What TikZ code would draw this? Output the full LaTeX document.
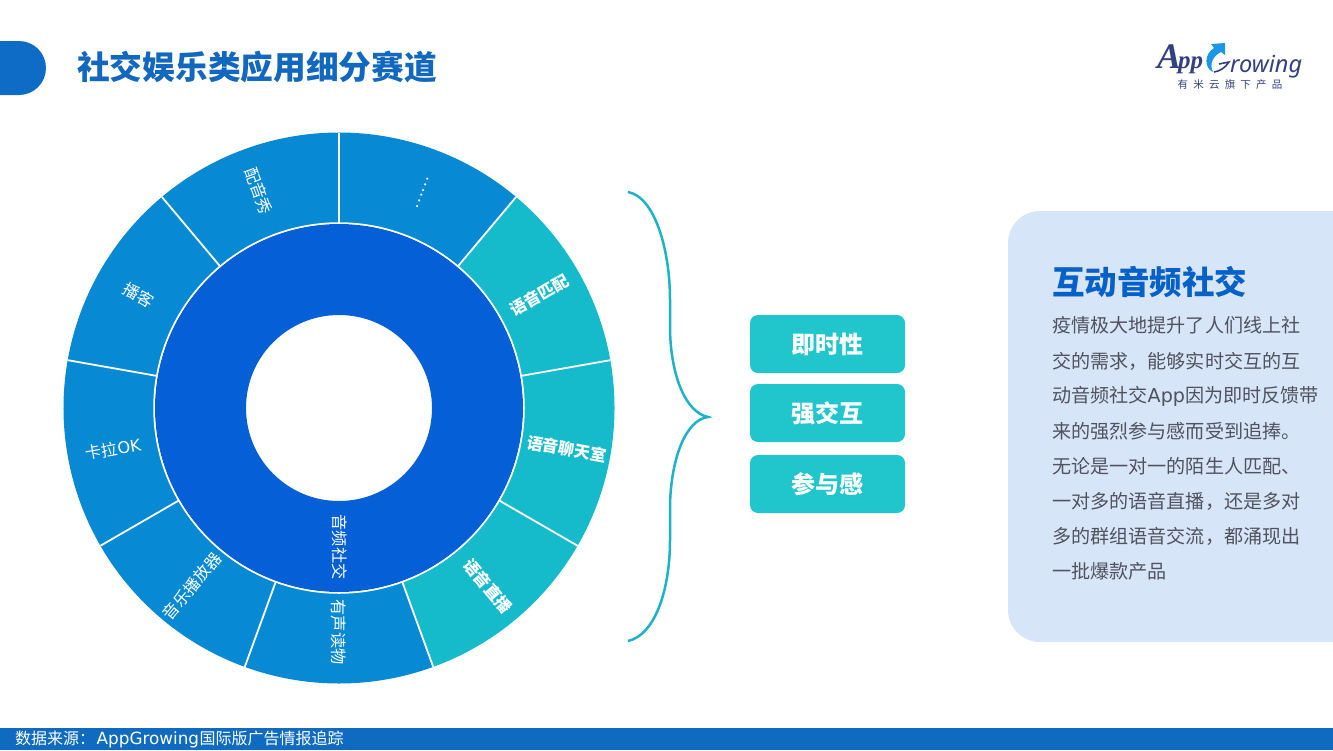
\documentclass[tikz,border=0pt]{standalone}
\usepackage{fontspec}
\setmainfont{Noto Sans}
\newfontfamily\cjk{Noto Sans CJK SC}
\newfontfamily\latinf{DejaVu Sans}
\newfontfamily\logofont{Liberation Serif}
\usetikzlibrary{calc}
\definecolor{pillblue}{HTML}{0F6CC6}
\definecolor{titleblue}{HTML}{1168BE}
\definecolor{inner}{HTML}{0560D8}
\definecolor{outerblue}{HTML}{0889D4}
\definecolor{teal}{HTML}{16BBCB}
\definecolor{boxteal}{HTML}{20C6CB}
\definecolor{bracecol}{HTML}{1CB2C8}
\definecolor{panel}{HTML}{D7E5F8}
\definecolor{bodytext}{HTML}{50525E}
\definecolor{heading}{HTML}{0560C8}
\definecolor{footbar}{HTML}{0F6BBF}
\definecolor{logonavy}{HTML}{34407F}
\definecolor{logoblue}{HTML}{1E96E6}
\tikzset{
  x=1pt,y=-1pt,
  seglabel/.style={text=white,inner sep=0pt,font=\cjk\fontsize{16.2}{16.2}\selectfont},
  tealabel/.style={text=white,inner sep=0pt,font=\cjk\bfseries\fontsize{16.2}{16.2}\selectfont},
  tagbox/.style={fill=boxteal,rounded corners=8pt,minimum width=155pt,minimum height=58pt,inner sep=0pt,text=white,font=\cjk\bfseries\fontsize{24}{24}\selectfont},
  bodyline/.style={anchor=west,inner sep=0pt,text=bodytext,font=\cjk\fontsize{19.1}{19.1}\selectfont},
  sep/.style={draw=white,line width=1.8pt}
}
\newcommand{\sector}[3]{%
  \fill[#3] ($(339,408)+({sin(#1)*185},{-cos(#1)*185})$)
    -- ($(339,408)+({sin(#1)*275.5},{-cos(#1)*275.5})$)
    arc[start angle={90-#1},end angle={90-#2},radius=275.5pt]
    -- ($(339,408)+({sin(#2)*185},{-cos(#2)*185})$)
    arc[start angle={90-#2},end angle={90-#1},radius=185pt] -- cycle;}
\begin{document}
\begin{tikzpicture}
\useasboundingbox (0,0) rectangle (1333,750);
% header
\fill[pillblue] (0,41) -- (19,41) arc[start angle=90,end angle=-90,radius=27pt] -- (0,95) -- cycle;
\node[anchor=west,inner sep=0pt,text=titleblue,font=\cjk\bfseries\fontsize{32.7}{32.7}\selectfont] (title) at (77,67) {社交娱乐类应用细分赛道};
% logo
\node[anchor=base west,inner sep=0pt,text=logonavy,font=\logofont\itshape\bfseries\fontsize{36}{36}\selectfont] (logoa) at (1157,68) {A};
\node[anchor=base west,inner sep=0pt,text=logonavy,font=\logofont\itshape\bfseries\fontsize{25}{25}\selectfont] (logop) at (1178,68) {pp};
\node[anchor=base west,inner sep=0pt,text=logonavy,font=\itshape\fontsize{23.5}{23.5}\selectfont] (logob) at (1230,72) {rowing};
\fill[logoblue] (1213,72) .. controls (1204,68) and (1204,54) .. (1214,48) -- (1211,44) -- (1225,43) -- (1225,55) -- (1221,52) .. controls (1213,56) and (1209,64) .. (1213,72) -- cycle;
\draw[logonavy,line width=1.6pt] (1214,72) .. controls (1220,71) and (1225,68) .. (1229,62) -- (1219,64);
\node[inner sep=0pt,text=logonavy,font=\cjk\fontsize{10.5}{10.5}\selectfont] (logoc) at (1230,85) {有\hspace{5.2pt}米\hspace{5.2pt}云\hspace{5.2pt}旗\hspace{5.2pt}下\hspace{5.2pt}产\hspace{5.2pt}品};
% donut
\sector{0}{40}{outerblue}
\sector{40}{80}{teal}
\sector{80}{120}{teal}
\sector{120}{160}{teal}
\sector{160}{200}{outerblue}
\sector{200}{240}{outerblue}
\sector{240}{280}{outerblue}
\sector{280}{320}{outerblue}
\sector{320}{360}{outerblue}
\foreach \a in {0,40,...,320}
  \draw[sep] ($(339,408)+({sin(\a)*185},{-cos(\a)*185})$) -- ($(339,408)+({sin(\a)*275.5},{-cos(\a)*275.5})$);
\fill[inner,even odd rule] (339,408) circle[radius=184pt] (339,408) circle[radius=93pt];
\draw[white,line width=1.5pt] (339,408) circle[radius=185pt];
% labels
\node[seglabel,rotate=70] (s1) at (423,193) {……};
\node[tealabel,rotate=30] (s2) at (539,295) {语音匹配};
\node[tealabel,rotate=-10] (s3) at (567,449) {语音聊天室};
\node[tealabel,rotate=-50] (s4) at (488,586) {语音直播};
\node[seglabel,rotate=-90] (s5) at (339,632) {有声读物};
\node[seglabel,rotate=50] (s6) at (192,586) {音乐播放器};
\node[seglabel,rotate=10] (s7) at (113,449) {卡拉\latinf OK};
\node[seglabel,rotate=-30] (s8) at (139,295) {播客};
\node[seglabel,rotate=-70] (s9) at (259,191) {配音秀};
\node[seglabel,rotate=-90] (s0) at (339.5,547) {音频社交};
% brace
\draw[bracecol,line width=2.5pt,line join=miter] (628,192) .. controls (655,197) and (670,250) .. (670,300) -- (670,330) .. controls (671,375) and (685,412) .. (708,417) .. controls (685,420) and (671,460) .. (670,505) -- (670,540) .. controls (670,590) and (655,635) .. (628,641);
% tags
\node[tagbox] (t1) at (827.5,344) {即时性};
\node[tagbox] (t2) at (827.5,413) {强交互};
\node[tagbox] (t3) at (827.5,484) {参与感};
% panel
\fill[panel] (1333,211) -- (1040,211) arc[start angle=90,end angle=180,radius=32pt] -- (1008,610) arc[start angle=180,end angle=270,radius=32pt] -- (1333,642) -- cycle;
\node[anchor=west,inner sep=0pt,text=heading,font=\cjk\bfseries\fontsize{32.5}{32.5}\selectfont] (h) at (1052,282) {互动音频社交};
\node[bodyline] (l1) at (1052,325.5) {疫情极大地提升了人们线上社};
\node[bodyline] (l2) at (1052,361) {交的需求，能够实时交互的互};
\node[bodyline] (l3) at (1052,396) {动音频社交{\latinf App}因为即时反馈带};
\node[bodyline] (l4) at (1052,431) {来的强烈参与感而受到追捧。};
\node[bodyline] (l5) at (1052,466) {无论是一对一的陌生人匹配、};
\node[bodyline] (l6) at (1052,501) {一对多的语音直播，还是多对};
\node[bodyline] (l7) at (1052,536.5) {多的群组语音交流，都涌现出};
\node[bodyline] (l8) at (1052,571.5) {一批爆款产品};
% footer
\fill[footbar] (0,728) rectangle (1333,750);
\node[anchor=west,inner sep=0pt,text=white,font=\cjk\fontsize{16}{16}\selectfont] (f) at (15,739) {数据来源：\hspace{1.5pt}{\latinf\fontsize{16.8}{16.8}\selectfont AppGrowing}\hspace{0.5pt}国际版广告情报追踪};
\end{tikzpicture}
\end{document}
